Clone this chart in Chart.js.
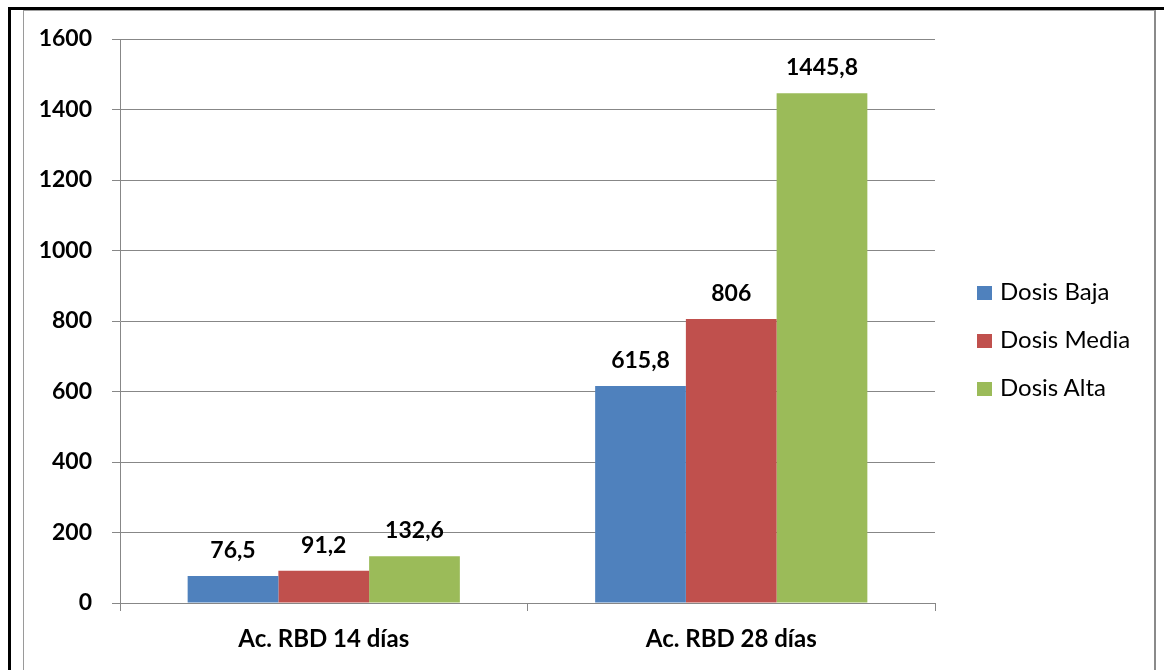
<!DOCTYPE html>
<html>
<head>
<meta charset="utf-8">
<script src="https://cdn.jsdelivr.net/npm/chart.js@4.4.0/dist/chart.umd.min.js"></script>
<style>
  html, body { margin: 0; padding: 0; background: #fff; }
  #wrap { position: relative; width: 1164px; height: 670px; overflow: hidden; background: #fff; }
  #outerTop { position: absolute; left: 8px; top: 7px; width: 1156px; height: 3px; background: #000; }
  #outerLeft { position: absolute; left: 8px; top: 7px; width: 3px; height: 663px; background: #000; }
  #innerFrame { position: absolute; left: 23px; top: 10px; width: 1133px; height: 670px; border-top: 1px solid #a0a0a0; border-left: 1px solid #9a9a9a; border-right: 2px solid #8a8a8a; box-sizing: border-box; }
  #chart { position: absolute; left: 0; top: 0; }
  #legend { position: absolute; left: 977px; top: 281px; font-family: Lato, "Open Sans", sans-serif; font-size: 24px; color: #000; }
  .li { position: relative; height: 48px; }
  .sw { position: absolute; left: 0; top: 5px; width: 15px; height: 14px; }
  .tx { position: absolute; left: 23px; top: -5px; white-space: nowrap; }
</style>
</head>
<body>
<div id="wrap">
  <div id="outerTop"></div>
  <div id="outerLeft"></div>
  <div id="innerFrame"></div>
  <canvas id="chart" width="1164" height="670"></canvas>
  <div id="legend"></div>
</div>
<script>
const categories = ["Ac. RBD 14 días", "Ac. RBD 28 días"];
const seriesNames = ["Dosis Baja", "Dosis Media", "Dosis Alta"];
const dosisBaja = [76.5, 615.8];
const dosisMedia = [91.2, 806];
const dosisAlta = [132.6, 1445.8];
const seriesColors = ["#4F81BD", "#C0504D", "#9BBB59"];
const yTicks = [0, 200, 400, 600, 800, 1000, 1200, 1400, 1600];

const FONT = "Lato, 'Open Sans', sans-serif";
const gridGray = "#878787";

const valueLabels = {
  id: "valueLabels",
  afterDatasetsDraw(chart) {
    const ctx = chart.ctx;
    ctx.save();
    ctx.font = "bold 23px " + FONT;
    ctx.fillStyle = "#000";
    ctx.textAlign = "center";
    ctx.textBaseline = "alphabetic";
    chart.data.datasets.forEach((ds, i) => {
      const meta = chart.getDatasetMeta(i);
      meta.data.forEach((el, j) => {
        const txt = String(ds.data[j]).replace(".", ",");
        ctx.fillText(txt, el.x, el.y - 18);
      });
    });
    ctx.restore();
  }
};

const seriesData = [dosisBaja, dosisMedia, dosisAlta];

const chart = new Chart(document.getElementById("chart"), {
  type: "bar",
  data: {
    labels: categories,
    datasets: seriesNames.map((n, i) => ({
      label: n,
      data: seriesData[i],
      backgroundColor: seriesColors[i],
      borderWidth: 0,
      categoryPercentage: 0.668,
      barPercentage: 1.0
    }))
  },
  options: {
    responsive: false,
    animation: false,
    devicePixelRatio: 1,
    layout: { padding: { left: 0, top: 39, right: 229, bottom: 0 } },
    plugins: { legend: { display: false }, tooltip: { enabled: false } },
    scales: {
      x: {
        grid: { display: true, drawOnChartArea: false, drawTicks: true, tickLength: 8, color: gridGray, offset: true },
        border: { display: true, color: gridGray, width: 1 },
        ticks: { color: "#000", font: { family: FONT, size: 24, weight: "bold" }, padding: 14 },
        afterFit(s) { s.height = 67; }
      },
      y: {
        min: 0, max: 1600,
        afterBuildTicks(s) { s.ticks = yTicks.map(v => ({ value: v })); },
        grid: { color: gridGray, tickLength: 8, lineWidth: 1 },
        border: { display: true, color: gridGray, width: 1 },
        ticks: { color: "#000", font: { family: FONT, size: 23, weight: "bold" }, padding: 20, callback: v => String(v) },
        afterFit(s) { s.width = 120; }
      }
    }
  },
  plugins: [valueLabels]
});

const lg = document.getElementById("legend");
seriesNames.forEach((n, i) => {
  const d = document.createElement("div");
  d.className = "li";
  d.innerHTML = '<div class="sw" style="background:' + seriesColors[i] + '"></div><div class="tx">' + n + '</div>';
  lg.appendChild(d);
});
</script>
</body>
</html>
